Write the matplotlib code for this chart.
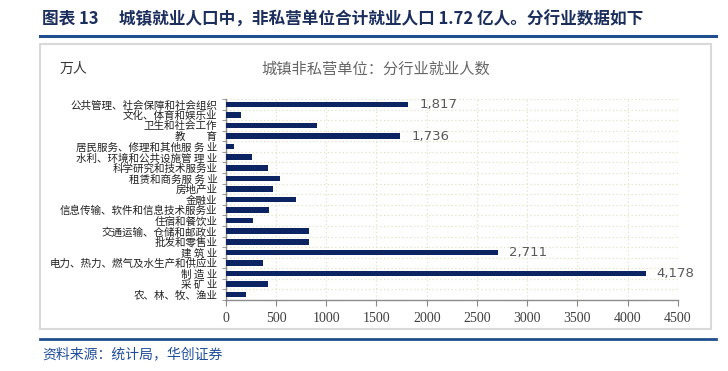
import matplotlib
matplotlib.use("Agg")
import matplotlib.pyplot as plt
from matplotlib.patches import Rectangle
from matplotlib.lines import Line2D
import numpy as np

plt.rcParams['font.family'] = ['Noto Sans CJK SC', 'DejaVu Sans']

categories = [
    "公共管理、社会保障和社会组织",
    "文化、体育和娱乐业",
    "卫生和社会工作",
    "教　　育",
    "居民服务、修理和其他服 务 业",
    "水利、环境和公共设施管 理 业",
    "科学研究和技术服务业",
    "租赁和商务服 务 业",
    "房地产业",
    "金融业",
    "信息传输、软件和信息技术服务业",
    "住宿和餐饮业",
    "交通运输、仓储和邮政业",
    "批发和零售业",
    "建 筑 业",
    "电力、热力、燃气及水生产和供应业",
    "制 造 业",
    "采 矿 业",
    "农、林、牧、渔业",
]
values = [1817, 154, 911, 1736, 82, 263, 422, 538, 471, 703,
          426, 273, 828, 826, 2711, 376, 4178, 419, 198]
labeled = {"公共管理、社会保障和社会组织", "教　　育", "建 筑 业", "制 造 业"}
xticks = [0, 500, 1000, 1500, 2000, 2500, 3000, 3500, 4000, 4500]

W, H = 728, 371
fig = plt.figure(figsize=(W / 100, H / 100), dpi=100)

def fx(px):
    return px / W

def fy(py):
    return 1 - py / H

# header
fig.text(fx(42), fy(20), "图表 13　 城镇就业人口中，非私营单位合计就业人口 1.72 亿人。分行业数据如下",
         fontsize=12, fontweight='bold', color='#1c2f5c', va='center', ha='left')
fig.add_artist(Line2D([fx(40), fx(716)], [fy(36), fy(36)], color='#1f4e8c', lw=2.2))

# chart frame
fig.add_artist(Rectangle((fx(40), fy(329)), fx(711) - fx(40), fy(44) - fy(329),
                         fill=False, edgecolor='#d9d9d9', lw=1.5))
fig.text(fx(60), fy(69), "万人", fontsize=10, color='#333333', va='center', ha='left')
fig.text(fx(376), fy(69), "城镇非私营单位：分行业就业人数", fontsize=11, color='#666666',
         va='center', ha='center')

# bottom line + source
fig.add_artist(Line2D([fx(40), fx(716)], [fy(339), fy(339)], color='#1f4e8c', lw=2.0))
fig.text(fx(42), fy(354), "资料来源：统计局，华创证券", fontsize=10, color='#1f4e9a',
         style='italic', va='center', ha='left')

ax = fig.add_axes([fx(225.7), fy(300), fx(678) - fx(225.7), fy(99) - fy(300)])
n = len(categories)
y = np.arange(n)[::-1]
ax.barh(y, values, height=0.52, color='#0c2461', zorder=3)
ax.set_ylim(-0.5, n - 0.5)
ax.set_xlim(0, 4500)
ax.set_xticks(xticks)
ax.set_xticklabels([str(t) for t in xticks], family='Liberation Serif', fontsize=10,
                   color='#404040')
ax.set_yticks(y)
ax.set_yticklabels(categories, fontsize=7.6, color='#222222')
ax.tick_params(axis='y', length=0, pad=6)
ax.set_yticks(np.arange(n + 1) - 0.5, minor=True)
ax.tick_params(axis='y', which='minor', length=3, color='#888888', direction='out')
ax.tick_params(axis='x', length=4, color='#888888', pad=5)
ax.grid(axis='x', which='major', linestyle=(0, (1, 2)), color='#e3e0c8', lw=0.9, zorder=0)
ax.grid(axis='y', which='minor', linestyle=(0, (1, 2)), color='#e3e0c8', lw=0.9, zorder=0)
for s in ['top', 'right']:
    ax.spines[s].set_visible(False)
for s in ['left', 'bottom']:
    ax.spines[s].set_color('#8c8c8c')
    ax.spines[s].set_linewidth(1.0)

for yi, v, c in zip(y, values, categories):
    if c in labeled:
        ax.text(v + 110, yi, f"{v:,}", va='center', ha='left', fontsize=9.5,
                color='#595959', family='DejaVu Sans')

fig.savefig("out.png", dpi=100)
